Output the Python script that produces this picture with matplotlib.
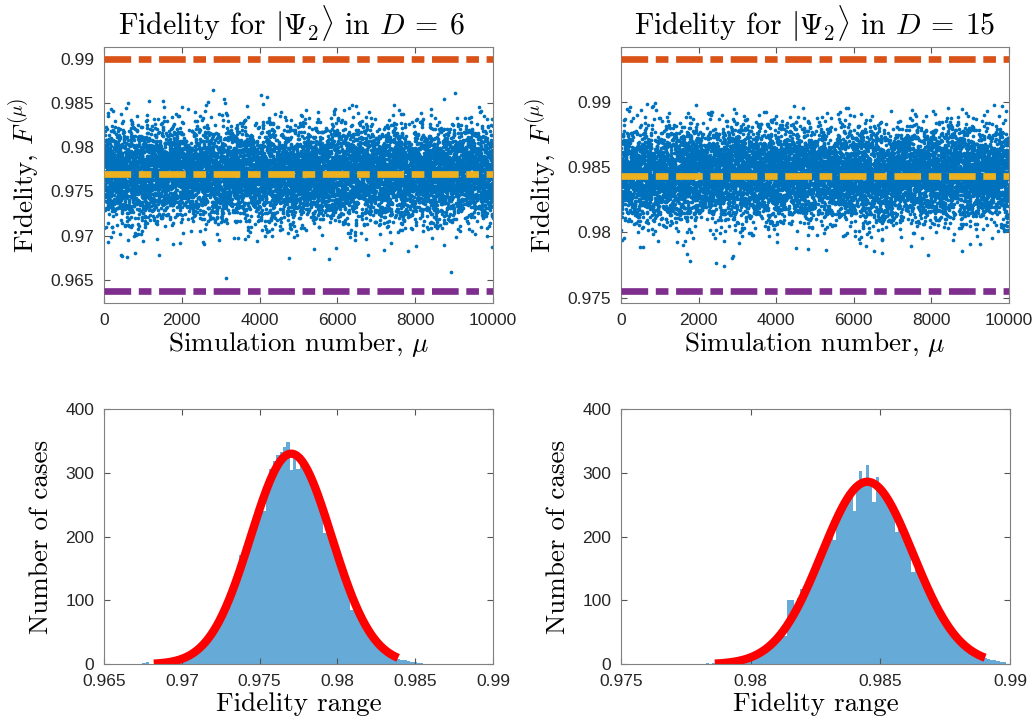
import numpy as np
import matplotlib
matplotlib.use("Agg")
import matplotlib.pyplot as plt

plt.rcParams["font.family"] = ["Liberation Sans", "DejaVu Sans"]
plt.rcParams["mathtext.fontset"] = "cm"
plt.rcParams["lines.scale_dashes"] = False

LABEL_FONT = "cmr10"

# --- histogram counts (one entry per bin) ---
# D = 6 : bins of width 0.000215, first left edge below
d6_bin_start = 0.9650975
d6_bin_width = 0.000215
d6_counts = [
    1, 0, 0, 1, 0, 0, 0, 0, 0, 0,
    1, 2, 4, 1, 1, 2, 2, 2, 3, 4,
    5, 6, 8, 10, 12, 15, 18, 22, 27, 32,
    38, 46, 50, 60, 72, 84, 96, 110, 120, 138,
    172, 176, 186, 200, 222, 236, 248, 240, 282, 306,
    318, 328, 332, 340, 348, 305, 326, 306, 328, 316,
    306, 298, 290, 262, 250, 205, 218, 200, 186, 168,
    150, 136, 122, 85, 94, 83, 72, 62, 53, 45,
    38, 33, 27, 22, 18, 15, 12, 9, 7, 6,
    5, 4, 3, 2, 2, 1, 1, 1, 0, 1,
]
# D = 15 : bins of width 0.000126
d15_bin_start = 0.977381
d15_bin_width = 0.000126
d15_counts = [
    1, 0, 1, 1, 0, 1, 1, 2, 1, 2,
    2, 2, 3, 3, 3, 4, 5, 6, 7, 9,
    10, 12, 15, 18, 20, 24, 28, 33, 38, 40,
    48, 45, 100, 100, 90, 104, 118, 114, 122, 132,
    143, 160, 173, 180, 198, 205, 195, 232, 243, 255,
    270, 272, 240, 278, 303, 290, 313, 288, 255, 294,
    278, 268, 257, 248, 243, 208, 222, 210, 198, 185,
    145, 160, 148, 136, 124, 113, 102, 96, 83, 74,
    65, 58, 50, 44, 38, 33, 28, 24, 21, 17,
    15, 12, 10, 9, 7, 6, 5, 4, 3, 1,
]

# reference lines in the upper panels (upper bound, mean, lower bound)
d6_levels = [0.9900, 0.97695, 0.9638]
d15_levels = [0.9933, 0.98434, 0.97554]

# gaussian fits drawn in red: peak, mean, sigma, x-range
d6_fit = dict(peak=330, mu=0.97703, sigma=0.0026, lo=0.9682, hi=0.9839)
d15_fit = dict(peak=286, mu=0.9845, sigma=0.00176, lo=0.97862, hi=0.98904)

# axis ranges and ticks
d6_ylim = (0.9624, 0.9913)
d15_ylim = (0.9746, 0.9942)
d6_fid_ticks = [0.965, 0.97, 0.975, 0.98, 0.985, 0.99]
d6_fid_labels = ["0.965", "0.97", "0.975", "0.98", "0.985", "0.99"]
d15_fid_ticks = [0.975, 0.98, 0.985, 0.99]
d15_fid_labels = ["0.975", "0.98", "0.985", "0.99"]
sim_ticks = [0, 2000, 4000, 6000, 8000, 10000]
count_ticks = [0, 100, 200, 300, 400]

BLUE = "#0072BD"
LINE_COLORS = ["#D95319", "#EDB120", "#7E2F8E"]


def values_from_counts(start, width, counts):
    # place each bin's cases evenly inside that bin
    parts = []
    for k, c in enumerate(counts):
        lo = start + k * width
        parts.append(np.linspace(lo, lo + width, c + 2)[1:-1])
    return np.concatenate(parts)


def style(ax):
    ax.tick_params(direction="in", length=4, width=0.8, top=True, right=True,
                   labelsize=12.5, color="#555555", labelcolor="#262626", pad=7)
    for s in ax.spines.values():
        s.set_color("#808080")
        s.set_linewidth(0.8)


fig = plt.figure(figsize=(10.36, 7.28), dpi=100)
ax_tl = fig.add_axes([0.1004, 0.5838, 0.3755, 0.3516])
ax_tr = fig.add_axes([0.5994, 0.5838, 0.3745, 0.3516])
ax_bl = fig.add_axes([0.1004, 0.0875, 0.3755, 0.3507])
ax_br = fig.add_axes([0.5994, 0.0875, 0.3755, 0.3507])

panels = [
    (ax_tl, ax_bl, "6", d6_bin_start, d6_bin_width, d6_counts, d6_levels, d6_fit,
     d6_ylim, d6_fid_ticks, d6_fid_labels, 0.482, 3),
    (ax_tr, ax_br, "15", d15_bin_start, d15_bin_width, d15_counts, d15_levels, d15_fit,
     d15_ylim, d15_fid_ticks, d15_fid_labels, 0.5, 11),
]

for (ax_s, ax_h, dim, start, width, counts, levels, fit,
     ylim, fticks, flabels, title_x, seed) in panels:
    vals = values_from_counts(start, width, counts)
    # the simulation order is not readable from the picture; shuffle only the order
    order = np.random.default_rng(seed).permutation(len(vals))
    fid = vals[order]
    sim = np.arange(1, len(fid) + 1)

    ax_s.scatter(sim, fid, s=7, color=BLUE, linewidths=0, zorder=2)
    for lvl, col in zip(levels, LINE_COLORS):
        ax_s.axhline(lvl, color=col, lw=4.8, solid_capstyle="butt",
                     dash_capstyle="butt", linestyle=(0, (19.2, 5.5, 9.1, 5.5)),
                     zorder=3)
    ax_s.set_xlim(0, 10000)
    ax_s.set_ylim(*ylim)
    ax_s.set_xticks(sim_ticks)
    ax_s.set_yticks(fticks, flabels)
    ax_s.set_title(r"Fidelity for $|\Psi_2\rangle$ in $D\:=\:" + dim + "$",
                   fontfamily=LABEL_FONT, fontsize=21.5, x=title_x, pad=9)
    ax_s.set_xlabel(r"Simulation number, $\mu$", fontfamily=LABEL_FONT,
                    fontsize=19.5, labelpad=2)
    ax_s.set_ylabel(r"Fidelity, $F^{(\mu)}$", fontfamily=LABEL_FONT,
                    fontsize=19.5, labelpad=7)
    style(ax_s)

    edges = start + width * np.arange(len(counts) + 1)
    ax_h.hist(fid, bins=edges, color=BLUE, alpha=0.6, linewidth=0)
    xf = np.linspace(fit["lo"], fit["hi"], 300)
    yf = fit["peak"] * np.exp(-0.5 * ((xf - fit["mu"]) / fit["sigma"]) ** 2)
    ax_h.plot(xf, yf, color="red", lw=6, solid_capstyle="butt")
    ax_h.set_xlim(fticks[0] if dim == "15" else 0.965, 0.99)
    ax_h.set_ylim(0, 400)
    ax_h.set_yticks(count_ticks)
    if dim == "6":
        ax_h.set_xticks(d6_fid_ticks, d6_fid_labels)
    else:
        ax_h.set_xticks(d15_fid_ticks, d15_fid_labels)
    ax_h.set_xlabel("Fidelity range", fontfamily=LABEL_FONT, fontsize=19.5, labelpad=2)
    ax_h.set_ylabel("Number of cases", fontfamily=LABEL_FONT, fontsize=19.5, labelpad=9)
    style(ax_h)

fig.savefig("out.png", dpi=100)
